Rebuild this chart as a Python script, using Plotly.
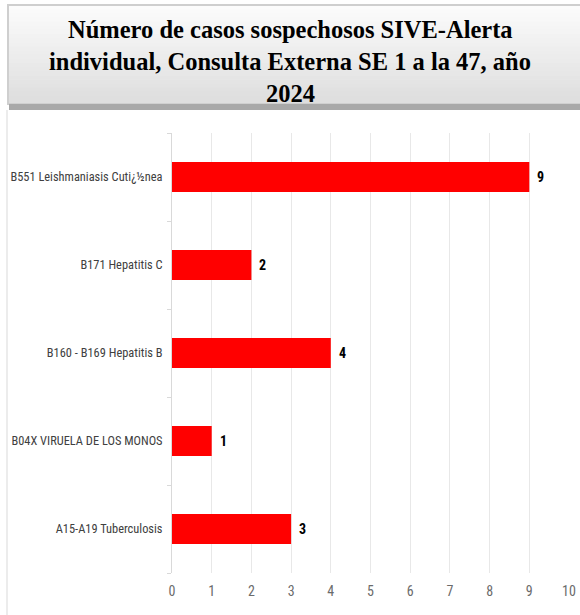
import plotly.graph_objects as go

# data (bottom to top, as drawn)
categories = [
    "A15-A19 Tuberculosis",
    "B04X VIRUELA DE LOS MONOS",
    "B160 - B169 Hepatitis B",
    "B171 Hepatitis C",
    "B551 Leishmaniasis Cuti¿½nea",
]
cases = [3, 1, 4, 2, 9]
x_ticks = list(range(0, 11))

W, H = 580, 615
L, R, T, B = 172, 11, 133, 42
pw, ph = W - L - R, H - T - B

AXIS_FONT = "Roboto Condensed, Liberation Sans, sans-serif"


def px(x):
    return (x - L) / pw


def py(y):
    return (H - B - y) / ph


fig = go.Figure()

fig.add_trace(go.Bar(
    x=cases,
    y=categories,
    orientation="h",
    marker=dict(color="#ff0000", line=dict(width=0)),
    width=0.34,
    hoverinfo="skip",
))

# value labels just right of each bar
for cat, val in zip(categories, cases):
    fig.add_annotation(
        x=val, y=cat, text=f"<b>{val}</b>", showarrow=False,
        xanchor="left", yanchor="middle", xshift=6,
        font=dict(family=AXIS_FONT, size=14, color="#000000"),
    )

# title box with a vertical gradient (stacked strips)
box_top, box_bot = 5, 104
n = 24
for i in range(n):
    y0 = box_top + (box_bot - box_top) * i / n
    y1 = box_top + (box_bot - box_top) * (i + 1) / n
    g = int(252 - (252 - 222) * i / (n - 1))
    fig.add_shape(type="rect", xref="paper", yref="paper",
                  x0=px(8), x1=px(582), y0=py(y1 + 0.5), y1=py(y0),
                  fillcolor=f"rgb({g},{g},{g})", line=dict(width=0), layer="below")
fig.add_shape(type="rect", xref="paper", yref="paper",
              x0=px(8), x1=px(582), y0=py(box_bot), y1=py(box_top),
              fillcolor="rgba(0,0,0,0)", line=dict(color="#cfcfcf", width=2))
# shadow under the box
fig.add_shape(type="rect", xref="paper", yref="paper",
              x0=px(9), x1=px(582), y0=py(110), y1=py(104),
              fillcolor="#a8a8a8", line=dict(width=0))
# left border of the chart area
fig.add_shape(type="line", xref="paper", yref="paper",
              x0=px(7), x1=px(7), y0=py(615), y1=py(110),
              line=dict(color="#d9d9d9", width=1))

title_lines = [
    "Número de casos sospechosos SIVE-Alerta",
    "individual, Consulta Externa SE 1 a la 47, año",
    "2024",
]
for i, line in enumerate(title_lines):
    fig.add_annotation(
        xref="paper", yref="paper", x=px(290), y=py(30 + 31.5 * i),
        text=f"<b>{line}</b>", showarrow=False, xanchor="center", yanchor="middle",
        font=dict(family="Liberation Serif, DejaVu Serif, serif", size=24.5, color="#000000"),
    )

fig.update_layout(
    width=W, height=H,
    margin=dict(l=L, r=R, t=T, b=B, pad=0),
    paper_bgcolor="#ffffff",
    plot_bgcolor="#ffffff",
    showlegend=False,
    bargap=0.66,
    xaxis=dict(
        range=[0, 10],
        tickvals=x_ticks,
        showgrid=True, gridcolor="#e8e8e8", gridwidth=1,
        zeroline=False, showline=False,
        ticks="", ticklabelstandoff=8,
        tickfont=dict(family=AXIS_FONT, size=14, color="#6b6b6b"),
        automargin=False,
        fixedrange=True,
    ),
    yaxis=dict(
        categoryorder="array", categoryarray=categories,
        showgrid=False, zeroline=False,
        showline=True, linecolor="#d9d9d9", linewidth=1,
        ticks="outside", tickson="boundaries", ticklen=4, tickcolor="#d9d9d9",
        ticklabelstandoff=6,
        tickfont=dict(family=AXIS_FONT, size=12.4, color="#404040"),
        automargin=False,
        fixedrange=True,
    ),
)

fig.write_html("out.html", config={"displayModeBar": False},
               post_script="document.body.style.margin='0';")
